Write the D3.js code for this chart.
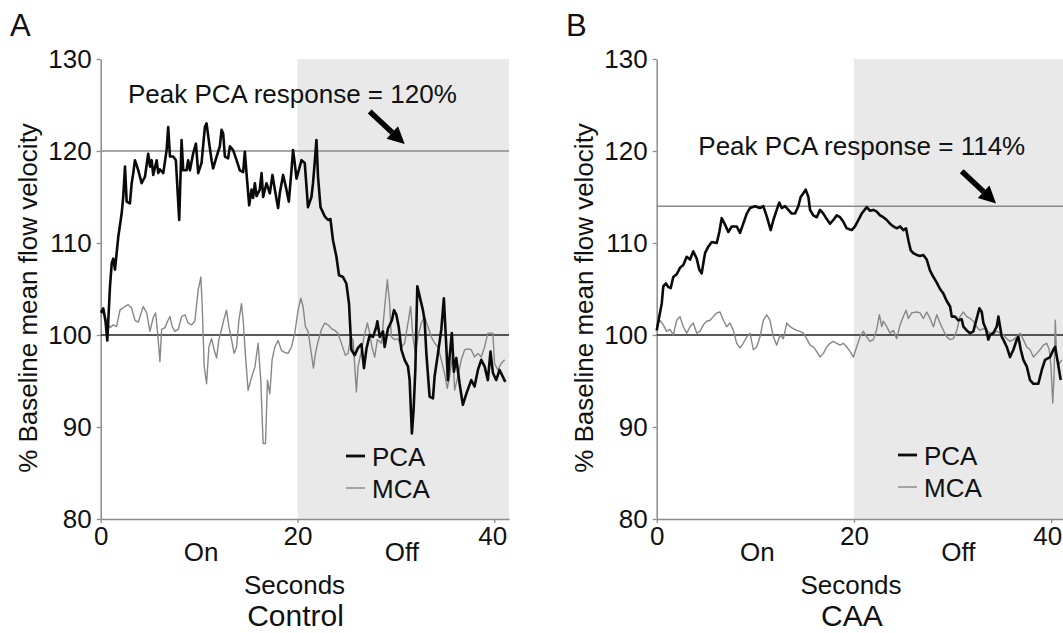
<!DOCTYPE html>
<html>
<head>
<meta charset="utf-8">
<script src="https://cdn.jsdelivr.net/npm/d3@7"></script>
<style>
  html, body { margin: 0; padding: 0; background: #fff; }
  svg { display: block; font-family: "Liberation Sans", Arial, Helvetica, sans-serif; }
</style>
</head>
<body>
<svg id="chart" width="1063" height="633"></svg>
<script>
// ---------------- DATA ----------------
const yTicks = [80, 90, 100, 110, 120, 130];
const xTicks = [0, 20, 40];
const phaseLabels = ["On", "Off"];
const phasePos = [10.2, 30.6];
const seriesNames = ["PCA", "MCA"];
const panelLetters = ["A", "B"];
const panelTitles = ["Control", "CAA"];
const peakValues = [120, 114];
const baselineValue = 100;
const offStart = 20;

// Control (A): [seconds, % baseline]
const pcaA = [[0.03,102.4],[0.26,102.9],[0.49,101.5],[0.67,99.4],[0.94,105.2],[1.12,107.8],[1.28,108.3],[1.45,107.1],[1.79,110.7],[2.13,113.2],[2.29,115],[2.47,118.3],[2.64,114.5],[2.97,114.3],[3.15,116.5],[3.31,117.6],[3.48,119.0],[3.82,117.9],[4.16,116.5],[4.5,117.2],[4.83,119.7],[5.01,118.3],[5.18,119],[5.34,117.4],[5.69,119],[5.85,117.6],[6.02,118],[6.36,117.6],[6.7,120.1],[6.86,122.6],[7.04,119.4],[7.37,119.4],[7.64,119],[7.98,112.5],[8.22,121.2],[8.39,117.9],[8.73,117.9],[8.89,119],[9.07,117.9],[9.4,119.75],[9.68,120.8],[9.91,117.6],[10.25,118.7],[10.59,122.6],[10.76,123.0],[11.03,120.8],[11.27,119],[11.43,118.1],[11.78,119.4],[12.11,120.5],[12.28,122.3],[12.45,121.9],[12.62,119.4],[12.95,119.2],[13.13,120.5],[13.46,120.1],[13.81,119],[14.14,117.9],[14.48,117.7],[14.65,119.9],[14.82,117.6],[15.09,114.1],[15.33,115.8],[15.49,114.9],[15.67,116.5],[15.84,115.1],[16.17,115.8],[16.35,117.6],[16.51,115],[16.85,116.5],[17.19,115.4],[17.46,117.4],[17.7,115.8],[18.03,113.8],[18.2,115.4],[18.54,117.4],[18.88,115.8],[19.12,114.5],[19.39,117.9],[19.55,120.1],[19.72,118.7],[19.9,117],[20.41,119],[20.74,118.7],[21.07,113.9],[21.42,115],[21.58,116.5],[21.75,118.7],[21.93,121.2],[22.09,117.2],[22.34,113.9],[22.77,112.9],[23.11,112.5],[23.35,112.6],[23.61,110.3],[23.96,108.5],[24.22,106.5],[24.63,106.3],[24.97,105.6],[25.24,103.4],[25.48,98.4],[25.82,97.8],[26.15,98.6],[26.5,99],[26.76,96.4],[27.01,98.5],[27.34,100],[27.68,99.8],[28.02,100.9],[28.12,101.5],[28.36,99.8],[28.69,100.4],[28.86,98.7],[29.2,100.7],[29.6,101.6],[29.81,102.7],[30.05,102.2],[30.29,100.9],[30.56,98.4],[30.89,97.3],[31.23,96.6],[31.4,95.1],[31.63,89.3],[31.8,91.8],[31.98,96.2],[32.18,105.3],[32.42,104.2],[32.75,102.7],[32.92,101.6],[33.1,98.0],[33.43,93.3],[33.77,93.1],[33.94,95.5],[34.28,98.0],[34.62,100.6],[34.88,104],[35.13,98.7],[35.29,95.1],[35.46,97.6],[35.69,100.2],[35.9,96.0],[36.14,97.5],[36.48,94.7],[36.81,92.4],[37.16,93.6],[37.66,95.1],[38.0,94.4],[38.34,96.2],[38.68,97.3],[39.02,96.6],[39.35,95.1],[39.62,98.2],[39.86,95.9],[40.2,95.1],[40.54,96.2],[40.77,95.7],[41.12,94.9]];

const mcaA = [[0,102],[0.26,102.7],[0.61,101.5],[0.94,100.8],[1.28,101.1],[1.62,100.9],[1.96,102.7],[2.47,103.1],[2.8,103.3],[3.15,102.9],[3.48,101.6],[3.82,101.4],[4.32,103.1],[4.67,102.4],[5.01,100.4],[5.34,101.9],[5.58,102.4],[5.79,100.2],[6.02,97.1],[6.19,100.6],[6.53,100.8],[6.8,101.5],[7.04,102],[7.27,100.9],[7.54,100.4],[7.88,100.6],[8.22,102],[8.56,102.2],[8.89,101.3],[9.24,101.1],[9.57,101.5],[9.91,104.9],[10.18,106.3],[10.31,103.4],[10.52,96.6],[10.76,94.7],[11.0,98.7],[11.27,99.6],[11.53,98.4],[11.78,97.5],[12.01,99.5],[12.28,100.6],[12.55,101.8],[12.79,102.7],[13.03,100.9],[13.3,99.5],[13.56,98],[13.81,98.7],[14.04,101.5],[14.31,103.4],[14.48,101.6],[14.72,97.7],[14.98,94.0],[15.33,95.4],[15.67,96.5],[16.0,99.1],[16.27,95.1],[16.51,88.2],[16.75,88.2],[16.95,95.1],[17.19,93.6],[17.42,97.3],[17.7,98.7],[18.03,99.4],[18.38,98.3],[18.71,98.1],[19.05,98.0],[19.39,98.7],[19.73,100.2],[20.06,102.7],[20.34,104],[20.57,103.1],[20.81,100.9],[21.08,100.4],[21.35,98.4],[21.62,96.4],[21.83,98.0],[22.09,99.3],[22.44,100.6],[22.77,101.3],[23.11,101.1],[23.45,100.7],[23.79,100.5],[24.12,100.2],[24.53,98.9],[24.87,97.8],[25.14,98.0],[25.41,99.8],[25.65,99.5],[25.99,93.8],[26.15,96.5],[26.5,98.3],[26.76,99.8],[27.11,101.3],[27.34,100.2],[27.57,98.7],[27.85,97.6],[28.12,99.5],[28.53,99.1],[28.86,103],[29.14,106],[29.37,103.4],[29.54,99.8],[29.87,99.5],[30.21,99.6],[30.56,98.7],[30.89,99.1],[31.23,101.3],[31.5,103.1],[31.74,99.8],[31.98,98.0],[32.24,99.8],[32.59,101.3],[32.92,102],[33.26,100.9],[33.6,99.8],[33.94,99.1],[34.28,98.7],[34.62,97.3],[34.96,95.8],[35.23,94.2],[35.46,95.5],[35.8,98.0],[35.97,94.0],[36.31,95.5],[36.65,97.3],[36.99,98.4],[37.33,98.5],[37.66,98.4],[38.0,97.6],[38.34,98.0],[38.68,97.6],[39.02,98.7],[39.35,100.2],[39.86,100.2],[40.03,96.9],[40.37,96.2],[40.71,96.9],[41.05,97.3]];

// CAA (B)
const pcaB = [[0,100.5],[0.26,102.0],[0.51,103.4],[0.67,105.3],[0.94,105.6],[1.18,105.2],[1.42,105.1],[1.68,106.3],[2.03,106.6],[2.36,107.3],[2.7,107.6],[3.04,108.5],[3.38,108.2],[3.71,109.1],[4.06,108.3],[4.32,107.1],[4.56,106.7],[4.9,108.9],[5.23,109.6],[5.58,110.1],[6.09,110.0],[6.35,111.2],[6.59,112.7],[6.93,112.0],[7.26,111.2],[7.61,111.8],[8.11,111.8],[8.45,111.1],[8.78,112.1],[9.13,113.2],[9.46,113.8],[9.97,114.0],[10.47,113.8],[10.81,114.0],[11.16,112.9],[11.56,111.4],[11.83,112.5],[12.17,113.6],[12.43,114.4],[12.68,113.8],[13.01,114.0],[13.35,113.6],[13.69,113.2],[14.03,113.2],[14.36,114.0],[14.6,115.0],[14.87,115.4],[15.11,115.8],[15.38,115.0],[15.55,113.6],[15.88,113.0],[16.23,112.8],[16.56,113.6],[16.9,113.2],[17.24,112.6],[17.58,112.1],[17.91,112.5],[18.26,113.0],[18.59,112.8],[18.93,112.3],[19.27,111.6],[19.78,111.4],[20.11,111.8],[20.45,112.5],[20.79,113.2],[21.3,113.9],[21.63,113.5],[21.97,113.6],[22.31,113.4],[22.65,113.0],[22.98,112.8],[23.33,112.5],[23.66,112.1],[24.0,111.8],[24.34,111.6],[24.68,111.8],[25.01,111.4],[25.28,111.6],[25.52,110.3],[25.76,109.2],[26.02,108.9],[26.37,108.7],[26.7,108.6],[27.04,108.7],[27.38,108.2],[27.72,107.0],[28.06,106.3],[28.4,105.7],[28.73,105.0],[29.07,104.5],[29.41,103.7],[29.75,103.1],[29.92,102.0],[30.25,102.0],[30.59,101.6],[30.93,101.7],[31.1,100.9],[31.44,100.5],[31.78,100.2],[32.11,100.4],[32.38,101.5],[32.72,102.9],[32.96,102.5],[33.13,101.3],[33.4,100.6],[33.63,99.5],[33.8,100.0],[34.14,100.2],[34.48,100.9],[34.65,102.0],[34.82,100.9],[34.99,99.8],[35.15,99.5],[35.5,98.7],[35.83,97.6],[36.17,98.4],[36.51,99.5],[36.67,99.8],[36.92,98.4],[37.18,97.3],[37.52,96.6],[37.86,95.1],[38.2,94.7],[38.7,94.7],[39.05,96.2],[39.38,97.3],[39.89,97.6],[40.22,98.4],[40.4,98.7],[40.63,97.3],[40.97,95.1]];

const mcaB = [[0,101.1],[0.33,101.6],[0.67,101.1],[1.01,100.4],[1.35,100.6],[1.68,100.0],[2.03,101.6],[2.36,102.0],[2.7,100.9],[3.04,100.2],[3.38,100.9],[3.71,101.3],[4.06,100.2],[4.39,100.4],[4.73,101.1],[5.07,101.5],[5.41,101.6],[5.74,102.0],[6.09,102.4],[6.42,102.5],[6.76,101.6],[7.1,100.9],[7.43,101.3],[7.77,100.5],[8.11,99.1],[8.45,98.6],[8.78,99.1],[9.13,99.8],[9.46,100.2],[9.8,98.4],[10.14,98.7],[10.48,99.8],[10.81,101.6],[11.16,102.2],[11.49,101.6],[11.83,99.8],[12.17,98.9],[12.51,100.0],[12.84,99.6],[13.19,101.3],[13.52,100.9],[13.85,100.7],[14.2,100.5],[14.53,100.4],[14.87,100.2],[15.21,99.6],[15.55,98.9],[15.89,98.7],[16.23,98.2],[16.56,97.6],[16.9,98.0],[17.24,98.7],[17.58,99.1],[17.91,99.3],[18.26,99.1],[18.59,98.9],[18.93,99.1],[19.27,98.7],[19.61,98.2],[19.94,97.6],[20.28,98.7],[20.62,99.8],[20.95,100.4],[21.3,99.8],[21.63,99.3],[21.97,99.5],[22.31,100.6],[22.58,102.2],[22.82,100.9],[22.98,101.5],[23.33,100.9],[23.66,100.2],[24.0,100.5],[24.34,99.6],[24.68,101.1],[25.01,102.0],[25.28,102.7],[25.52,101.8],[25.86,102.4],[26.37,102.5],[26.7,102.4],[27.04,101.8],[27.38,102.5],[27.72,101.8],[28.06,100.9],[28.4,102.2],[28.73,101.3],[29.07,100.5],[29.41,99.8],[29.75,99.5],[30.08,99.6],[30.43,100.5],[30.76,102.0],[31.1,102.5],[31.44,102.0],[31.78,101.8],[32.11,101.5],[32.45,100.9],[32.76,100.5],[33.12,100.7],[33.47,100.5],[33.8,100.2],[34.48,100.4],[34.82,100.2],[35.15,100.0],[35.5,99.6],[35.83,99.3],[36.17,99.5],[36.51,99.8],[36.85,100.2],[37.18,99.5],[37.52,98.7],[37.86,98.4],[38.2,97.6],[38.54,98.0],[38.87,98.4],[39.21,98.9],[39.55,99.1],[39.81,98.4],[39.98,96.6],[40.16,92.6],[40.29,95.5],[40.42,101.6],[40.56,97.3],[40.82,96.9],[41.07,97.3]];

// annotation anchors in data units: [t, value]
const noteA = [2.77, 125.2];
const noteB = [4.22, 119.6];
const arrowA = [[27.34, 124.3], [30.9, 120.76]];
const arrowB = [[30.93, 117.8], [34.41, 114.3]];

// ---------------- DRAW ----------------
const svg = d3.select("#chart");
const FONT = 26;
const GRAYBG = "#e9e9e9";
const AXIS = "#8c8c8c";

function drawPanel(p) {
  const x = d3.scaleLinear().domain([0, p.tMax]).range([p.left, p.right]);
  const y = d3.scaleLinear().domain([80, 130]).range([519, 59]);
  const g = svg.append("g");

  // shaded "off" period
  g.append("rect")
    .attr("x", x(offStart)).attr("y", y(130))
    .attr("width", x(p.tMax) - x(offStart)).attr("height", y(80) - y(130))
    .attr("fill", GRAYBG);

  // panel letter
  g.append("text").attr("x", p.letterX).attr("y", 36)
    .attr("font-size", 31).attr("fill", "#111").text(p.letter);

  // peak reference line
  g.append("line")
    .attr("x1", x(0)).attr("x2", x(p.tMax))
    .attr("y1", y(p.peak)).attr("y2", y(p.peak))
    .attr("stroke", "#8a8a8a").attr("stroke-width", 1.6);

  // y axis
  const ya = g.append("g").attr("transform", `translate(${x(0)},0)`)
    .call(d3.axisLeft(y).tickValues(yTicks).tickSize(4).tickSizeOuter(0).tickPadding(5));
  ya.select(".domain").attr("stroke", AXIS).attr("stroke-width", 1.5);
  ya.selectAll(".tick line").attr("stroke", AXIS).attr("stroke-width", 1.3);
  ya.selectAll(".tick text").attr("font-size", FONT).attr("fill", "#111")
    .attr("font-family", "Liberation Sans, Arial, sans-serif");

  // x axis
  const xa = g.append("g").attr("transform", `translate(0,${y(80)})`)
    .call(d3.axisBottom(x).tickValues(xTicks).tickSize(4).tickSizeOuter(0).tickPadding(3.5));
  xa.select(".domain").attr("stroke", AXIS).attr("stroke-width", 1.5);
  xa.selectAll(".tick line").attr("stroke", AXIS).attr("stroke-width", 1.3);
  xa.selectAll(".tick text").attr("font-size", FONT).attr("fill", "#111")
    .attr("font-family", "Liberation Sans, Arial, sans-serif")
    .attr("dx", d => d === 40 ? p.dx40 : 0);

  // baseline 100 line
  g.append("line")
    .attr("x1", x(0)).attr("x2", x(p.tMax))
    .attr("y1", y(baselineValue)).attr("y2", y(baselineValue))
    .attr("stroke", "#222").attr("stroke-width", 1.6);

  const line = d3.line().x(d => x(d[0])).y(d => y(d[1])).curve(d3.curveLinear);

  // MCA (thin gray)
  g.append("path").datum(p.mca).attr("d", line)
    .attr("fill", "none").attr("stroke", "#878787").attr("stroke-width", 1.4)
    .attr("stroke-linejoin", "round");
  // PCA (thick black)
  g.append("path").datum(p.pca).attr("d", line)
    .attr("fill", "none").attr("stroke", "#0a0a0a").attr("stroke-width", 2.6)
    .attr("stroke-linejoin", "round");

  // annotation text
  g.append("text").attr("x", x(p.note[0])).attr("y", y(p.note[1]))
    .attr("font-size", FONT).attr("fill", "#111")
    .text(`Peak PCA response = ${p.peak}%`);

  // arrow
  const [a0, a1] = p.arrow;
  const sx = x(a0[0]), sy = y(a0[1]), ex = x(a1[0]), ey = y(a1[1]);
  const ang = Math.atan2(ey - sy, ex - sx);
  const headL = 17, headW = 8.5;
  const bx = ex - headL * Math.cos(ang), by = ey - headL * Math.sin(ang);
  g.append("line").attr("x1", sx).attr("y1", sy).attr("x2", bx).attr("y2", by)
    .attr("stroke", "#000").attr("stroke-width", 5.5);
  g.append("path")
    .attr("d", `M${ex},${ey} L${bx + headW * Math.sin(ang)},${by - headW * Math.cos(ang)} L${bx - headW * Math.sin(ang)},${by + headW * Math.cos(ang)} Z`)
    .attr("fill", "#000");

  // phase labels
  phaseLabels.forEach((lab, i) => {
    g.append("text").attr("x", x(phasePos[i])).attr("y", 561)
      .attr("text-anchor", "middle").attr("font-size", FONT).attr("fill", "#111").text(lab);
  });
  g.append("text").attr("x", x(19.7)).attr("y", 594)
    .attr("text-anchor", "middle").attr("font-size", FONT).attr("fill", "#111").text("Seconds");
  g.append("text").attr("x", x(19.8)).attr("y", 626)
    .attr("text-anchor", "middle").attr("font-size", 30).attr("fill", "#111").text(p.title);

  // y-axis title
  g.append("text")
    .attr("transform", `translate(${p.yTitleX},298) rotate(-90)`)
    .attr("text-anchor", "middle").attr("font-size", FONT).attr("fill", "#111")
    .text("% Baseline mean flow velocity");

  // legend
  const lg = g.append("g");
  const legY = [p.legY0, p.legY0 + 32];
  seriesNames.forEach((nm, i) => {
    lg.append("line")
      .attr("x1", p.legX).attr("x2", p.legX + 19)
      .attr("y1", legY[i]).attr("y2", legY[i])
      .attr("stroke", i === 0 ? "#0a0a0a" : "#878787")
      .attr("stroke-width", i === 0 ? 2.8 : 1.4);
    lg.append("text").attr("x", p.legX + 26).attr("y", legY[i] + 9.5)
      .attr("font-size", FONT).attr("fill", "#111").text(nm);
  });
}

drawPanel({
  letter: panelLetters[0], title: panelTitles[0], peak: peakValues[0],
  left: 100.7, right: 509, tMax: 41.5,
  pca: pcaA, mca: mcaA, note: noteA, arrow: arrowA,
  letterX: 10, yTitleX: 37, legX: 346, legY0: 456, dx40: -2
});
drawPanel({
  letter: panelLetters[1], title: panelTitles[1], peak: peakValues[1],
  left: 656.7, right: 1063, tMax: 41.2,
  pca: pcaB, mca: mcaB, note: noteB, arrow: arrowB,
  letterX: 566, yTitleX: 593, legX: 898, legY0: 455, dx40: -4
});
</script>
</body>
</html>
